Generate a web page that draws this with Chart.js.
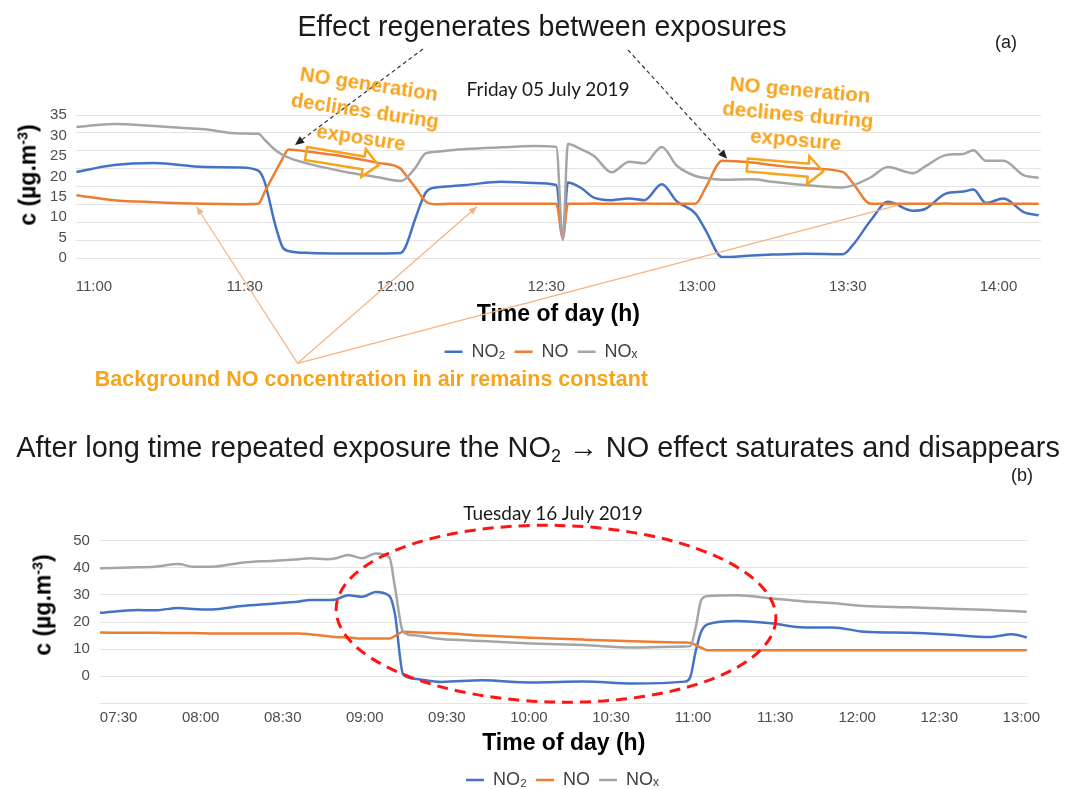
<!DOCTYPE html>
<html>
<head>
<meta charset="utf-8">
<title>NO2 / NO / NOx during exposure</title>
<script src="https://cdn.jsdelivr.net/npm/chart.js@4.4.1/dist/chart.umd.min.js"></script>
<style>
  html, body { margin: 0; padding: 0; background: #fff; }
  body { position: relative; width: 1070px; height: 789px; overflow: hidden; font-family: "Liberation Sans", Arial, sans-serif; color: #1a1a1a; }
  .box { position: absolute; left: 0; width: 1070px; }
  .txt { position: absolute; white-space: nowrap; line-height: 1; transform: translate(-50%, -50%); }
  .orange { color: #f7a41d; font-weight: bold; text-align: center; }
  .ytitle { font-weight: bold; font-size: 23px; color: #000; transform: translate(-50%, -50%) rotate(-90deg); }
  .date { font-family: Lato, "Open Sans", sans-serif; font-size: 19px; }
  sup { font-size: 0.62em; vertical-align: 0.55em; line-height: 0; }
  sub { font-size: 0.62em; vertical-align: -0.3em; line-height: 0; }
</style>
</head>
<body>
<div class="box" style="top:0;height:400px"><canvas id="chartA"></canvas></div>
<div class="box" style="top:400px;height:420px"><canvas id="chartB"></canvas></div>

<div class="txt" style="left:542px;top:25.5px;font-size:28.6px">Effect regenerates between exposures</div>
<div class="txt" style="left:1006px;top:42px;font-size:18px">(a)</div>
<div class="txt date" style="left:548px;top:88px">Friday 05 July 2019</div>
<div class="txt orange" style="left:365px;top:111px;font-size:20.2px;line-height:27px;transform:translate(-50%,-50%) rotate(8.5deg)">NO generation<br>declines during<br>exposure</div>
<div class="txt orange" style="left:798px;top:114px;font-size:20.5px;line-height:25px;transform:translate(-50%,-50%) rotate(5deg)">NO generation<br>declines during<br>exposure</div>
<div class="txt ytitle" style="left:27.5px;top:175px">c (µg.m<sup>-3</sup>)</div>
<div class="txt orange" style="left:94.8px;top:380px;font-size:21.5px;transform:translate(0,-50%)">Background NO concentration in air remains constant</div>

<div class="txt" style="left:538px;top:447px;font-size:28.9px">After long time repeated exposure the NO<sub>2</sub> → NO effect saturates and disappears</div>
<div class="txt" style="left:1022px;top:475px;font-size:18px">(b)</div>
<div class="txt date" style="left:553px;top:512px">Tuesday 16 July 2019</div>
<div class="txt ytitle" style="left:43px;top:605px">c (µg.m<sup>-3</sup>)</div>

<script>
// (a) Friday 05 July 2019, minutes since midnight
const timesA = [656.5, 664, 672, 682, 689, 692.7, 694, 696, 697.5, 698.7, 703, 710, 716.5, 721, 722, 724, 726, 728, 731, 734,
  741, 747.5, 752, 753.3, 754.3, 757, 759.5, 763, 766.5, 769.5, 773, 776, 779.7, 781.7, 785, 791, 795, 801.5, 809, 811,
  814.6, 818, 823, 825.5, 829.5, 833, 835, 837.5, 841, 845, 848];
const no2A = [21.1, 22.8, 23.3, 22.3, 22.2, 21.4, 18.5, 8.5, 2.8, 1.8, 1.3, 1.2, 1.2, 1.3, 2.8, 9.9, 16.0, 17.3, 17.6, 17.9,
  18.7, 18.4, 17.9, 5.0, 18.5, 17.1, 14.8, 14.2, 14.6, 14.2, 18.1, 13.9, 10.9, 6.9, 0.3, 0.7, 0.9, 1.1, 1.0, 3.2,
  9.3, 13.8, 11.6, 12.1, 15.8, 16.3, 16.8, 13.5, 14.6, 11.3, 10.5];
const noA = [15.4, 14.2, 13.7, 13.3, 13.2, 13.3, 16.3, 20.9, 24.3, 26.6, 26.0, 24.8, 23.3, 21.9, 20.4, 17.2, 13.9, 13.2, 13.3, 13.3,
  13.3, 13.3, 13.3, 5.0, 13.3, 13.3, 13.4, 13.3, 13.3, 13.4, 13.3, 13.3, 13.3, 17.2, 23.8, 23.4, 22.8, 22.0, 21.1, 18.4,
  13.3, 13.3, 13.3, 13.3, 13.4, 13.3, 13.3, 13.3, 13.3, 13.3, 13.3];
const noxA = [32.1, 32.8, 32.3, 31.5, 30.5, 30.4, 28.9, 26.5, 25.3, 24.6, 23.0, 21.1, 19.8, 18.9, 19.4, 22.2, 25.6, 26.0, 26.4, 26.7,
  27.1, 27.4, 27.2, 4.5, 27.9, 26.6, 25.0, 21.0, 23.6, 23.2, 27.2, 22.6, 20.1, 19.6, 19.2, 19.3, 18.7, 17.9, 17.3, 17.8,
  19.8, 22.3, 20.8, 22.5, 25.2, 25.5, 26.4, 23.8, 23.8, 20.3, 19.7];
const tickLabelsA = ['11:00', '11:30', '12:00', '12:30', '13:00', '13:30', '14:00'];
const yTicksA = [0, 5, 10, 15, 20, 25, 30, 35];

// (b) Tuesday 16 July 2019
const timesB = [443.2, 457, 463, 472, 477, 484, 495, 507, 516, 520, 526, 529, 534, 539, 544, 549, 551, 554, 558, 568,
  583, 601, 620, 638, 657, 659, 661, 663, 665.5, 676, 688.5, 701, 711, 722.5, 739, 751.5, 769, 776.5, 782];
const no2B = [23.4, 24.4, 24.3, 25.2, 24.8, 24.6, 25.9, 26.8, 27.6, 28.1, 28.1, 28.2, 29.9, 29.3, 31.1, 29.6, 23.0, 0.7, -0.9, -2.1,
  -1.5, -2.35, -2.0, -2.7, -2.0, -0.3, 9.4, 16.5, 19.2, 20.4, 19.5, 18.0, 18.0, 16.4, 16.0, 15.5, 14.5, 15.5, 14.3];
const noB = [16.1, 16.0, 16.0, 15.9, 15.9, 15.8, 15.8, 15.8, 15.8, 15.5, 14.8, 14.5, 14.3, 13.9, 13.9, 13.9, 14.8, 16.4, 16.2, 15.9,
  15.0, 14.2, 13.5, 12.9, 12.4, 12.3, 11.5, 10.5, 9.6, 9.6, 9.6, 9.6, 9.6, 9.6, 9.6, 9.6, 9.6, 9.6, 9.6];
const noxB = [39.8, 40.2, 40.4, 41.4, 40.4, 40.4, 41.9, 42.6, 43.2, 43.5, 43.2, 43.4, 44.7, 43.5, 45.3, 43.8, 33.0, 16.4, 15.1, 13.7,
  13.0, 12.1, 11.5, 10.6, 11.0, 11.1, 18.2, 28.1, 29.6, 29.9, 28.7, 27.6, 27.0, 25.9, 25.4, 25.0, 24.4, 24.1, 23.8];
const tickLabelsB = ['07:30', '08:00', '08:30', '09:00', '09:30', '10:00', '10:30', '11:00', '11:30', '12:00', '12:30', '13:00'];
const yTicksB = [-10, 0, 10, 20, 30, 40, 50];

// annotation anchors (minutes, µg/m3) for panel (a)
const noteFromA = [[423, 49], [628, 50]];
const noteTipsA = [[700.0, 27.7], [786.0, 24.3]];
const bgFromA = [297.6, 363.3];
const bgTipsA = [[680.4, 12.6], [736.2, 12.6], [820.1, 13.0]];
const hollowA = [[[702.2, 25.6], [716.6, 22.7]], [[790.0, 22.8], [805.1, 21.2]]];
// red dashed ring for panel (b): centre and half extents
const ringB = { t: 609.9, v: 23.05, dt: 80.4, dv: 32.6 };

Chart.defaults.font.family = "'Liberation Sans', Arial, sans-serif";

const toMin = s => { const [h, m] = s.split(':').map(Number); return h * 60 + m; };

const series = (times, no2, no, nox) => [
  { label: 'NO₂', data: times.map((t, i) => ({ x: t, y: no2[i] })), borderColor: '#4472c4', backgroundColor: '#4472c4', order: 3 },
  { label: 'NO', data: times.map((t, i) => ({ x: t, y: no[i] })), borderColor: '#ed7d31', backgroundColor: '#ed7d31', order: 2 },
  { label: 'NOₓ', data: times.map((t, i) => ({ x: t, y: nox[i] })), borderColor: '#a5a5a5', backgroundColor: '#a5a5a5', order: 1 }
].map(d => Object.assign(d, { borderWidth: 2.5, pointRadius: 0, tension: 0.3, cubicInterpolationMode: 'monotone' }));

const xAxis = (min, max, labels, pad, height, titlePad) => ({
  type: 'linear', min, max,
  afterBuildTicks: s => { s.ticks = labels.map(l => ({ value: toMin(l) })); },
  ticks: { callback: (v, i) => labels[i], padding: pad, autoSkip: false, maxRotation: 0, color: '#4d4d4d', font: { size: 15 } },
  grid: { display: false, drawTicks: false },
  border: { display: false },
  title: { display: true, text: 'Time of day (h)', color: '#000', font: { size: 23, weight: 'bold' }, padding: { top: 0, bottom: titlePad } },
  afterFit: s => { s.height = height; }
});

const legendOpts = {
  position: 'bottom',
  labels: {
    usePointStyle: true, pointStyle: 'line', pointStyleWidth: 18, padding: 9,
    color: '#404040', font: { size: 18 },
    sort: (a, b) => a.datasetIndex - b.datasetIndex
  }
};

// move the bottom legend so its items centre on a given x
const legendAt = centre => ({
  id: 'legendAt',
  afterLayout(chart) {
    const lg = chart.legend;
    const shift = centre - (lg.left + lg.right) / 2;
    lg.left += shift;
    lg.right += shift;
  }
});

function head(ctx, x1, y1, x2, y2, len, half) {
  const a = Math.atan2(y2 - y1, x2 - x1), c = Math.cos(a), s = Math.sin(a);
  ctx.beginPath();
  ctx.moveTo(x2, y2);
  ctx.lineTo(x2 - len * c + half * s, y2 - len * s - half * c);
  ctx.lineTo(x2 - len * c - half * s, y2 - len * s + half * c);
  ctx.closePath();
  ctx.fill();
}

function hollowArrow(ctx, x1, y1, x2, y2) {
  const L = Math.hypot(x2 - x1, y2 - y1);
  ctx.save();
  ctx.translate(x1, y1);
  ctx.rotate(Math.atan2(y2 - y1, x2 - x1));
  ctx.beginPath();
  ctx.moveTo(0, -6.5); ctx.lineTo(L - 15, -6.5); ctx.lineTo(L - 15, -14); ctx.lineTo(L, 0);
  ctx.lineTo(L - 15, 14); ctx.lineTo(L - 15, 6.5); ctx.lineTo(0, 6.5);
  ctx.closePath();
  ctx.stroke();
  ctx.restore();
}

const annotA = {
  id: 'annotA',
  afterDatasetsDraw(chart) {
    const { ctx } = chart;
    const { x, y } = chart.scales;
    const px = p => [x.getPixelForValue(p[0]), y.getPixelForValue(p[1])];
    ctx.save();
    ctx.strokeStyle = '#f5b383'; ctx.fillStyle = '#f5b383'; ctx.lineWidth = 1.2;
    bgTipsA.forEach((tip, i) => {
      const [tx, ty] = px(tip);
      ctx.beginPath(); ctx.moveTo(bgFromA[0], bgFromA[1]); ctx.lineTo(tx, ty); ctx.stroke();
      if (i < 2) head(ctx, bgFromA[0], bgFromA[1], tx, ty, 8, 3.5);
    });
    ctx.strokeStyle = '#333'; ctx.fillStyle = '#222'; ctx.lineWidth = 1.2;
    noteTipsA.forEach((tip, i) => {
      const [tx, ty] = px(tip), [fx, fy] = noteFromA[i];
      const a = Math.atan2(ty - fy, tx - fx);
      ctx.setLineDash([4, 3]);
      ctx.beginPath(); ctx.moveTo(fx, fy); ctx.lineTo(tx - 8 * Math.cos(a), ty - 8 * Math.sin(a)); ctx.stroke();
      ctx.setLineDash([]);
      head(ctx, fx, fy, tx, ty, 9, 4);
    });
    ctx.strokeStyle = '#f7a41d'; ctx.lineWidth = 2.5;
    hollowA.forEach(([from, to]) => hollowArrow(ctx, ...px(from), ...px(to)));
    ctx.restore();
  }
};

const ringPluginB = {
  id: 'ringB',
  afterDatasetsDraw(chart) {
    const { ctx } = chart;
    const { x, y } = chart.scales;
    const cx = x.getPixelForValue(ringB.t), cy = y.getPixelForValue(ringB.v);
    const rx = x.getPixelForValue(ringB.t + ringB.dt) - cx;
    const ry = cy - y.getPixelForValue(ringB.v + ringB.dv);
    ctx.save();
    ctx.strokeStyle = '#ff1414'; ctx.lineWidth = 3; ctx.setLineDash([11, 7]);
    ctx.beginPath(); ctx.ellipse(cx, cy, rx, ry, 0.023, 0, Math.PI * 2); ctx.stroke();
    ctx.restore();
  }
};

new Chart(document.getElementById('chartA'), {
  type: 'line',
  data: { datasets: series(timesA, no2A, noA, noxA) },
  options: {
    responsive: true, maintainAspectRatio: false, animation: false,
    layout: { padding: { left: 0, right: 29, top: 115, bottom: 29.3 } },
    scales: {
      x: xAxis(656.38, 848.46, tickLabelsA, 20, 75.4, 4.9),
      y: {
        min: 0, max: 35,
        afterBuildTicks: s => { s.ticks = yTicksA.map(v => ({ value: v })); },
        ticks: { padding: 9, autoSkip: false, color: '#4d4d4d', font: { size: 15 } },
        grid: { display: false, drawTicks: false },
        border: { display: false },
        afterFit: s => { s.width = 75.8; }
      },
      yGrid: {
        position: 'left', min: 0, max: 35,
        afterBuildTicks: s => { s.ticks = [0, 1, 2, 3, 4, 5, 6, 7, 8].map(i => ({ value: i * 35 / 8 })); },
        ticks: { display: false },
        grid: { color: '#e4e4e4', drawTicks: false },
        border: { display: false },
        afterFit: s => { s.width = 0; }
      }
    },
    plugins: { legend: legendOpts, tooltip: { enabled: false } }
  },
  plugins: [annotA, legendAt(541)]
});

new Chart(document.getElementById('chartB'), {
  type: 'line',
  data: { datasets: series(timesB, no2B, noB, noxB) },
  options: {
    responsive: true, maintainAspectRatio: false, animation: false,
    layout: { padding: { left: 0, right: 42.4, top: 140.7, bottom: 21 } },
    scales: {
      x: xAxis(443.16, 782.3, tickLabelsB, 5.7, 58.7, 4.9),
      y: {
        min: -10, max: 50,
        afterBuildTicks: s => { s.ticks = yTicksB.map(v => ({ value: v })); },
        ticks: { padding: 10, autoSkip: false, color: '#4d4d4d', font: { size: 15 }, callback: v => (v < 0 ? '' : v) },
        grid: { color: '#e4e4e4', drawTicks: false },
        border: { display: false },
        afterFit: s => { s.width = 99.9; }
      }
    },
    plugins: { legend: legendOpts, tooltip: { enabled: false } }
  },
  plugins: [ringPluginB, legendAt(562.5)]
});
</script>
</body>
</html>
